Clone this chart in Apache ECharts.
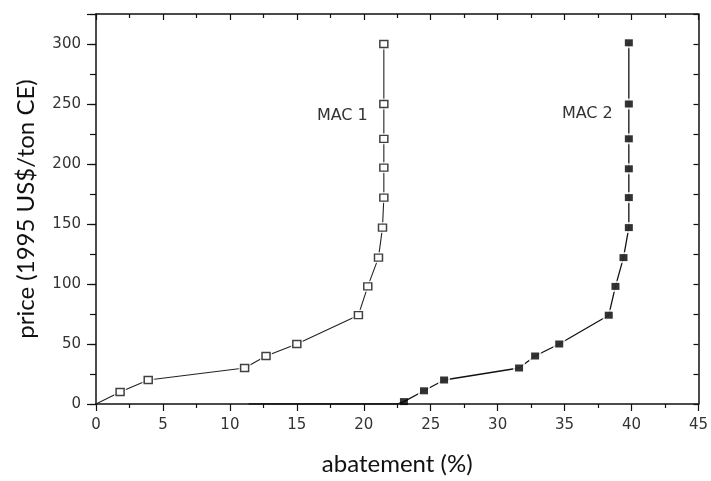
<!DOCTYPE html>
<html>
<head>
<meta charset="utf-8">
<script src="https://cdn.jsdelivr.net/npm/echarts@6/dist/echarts.min.js"></script>
<style>
html,body{margin:0;padding:0;background:#fff;}
#chart{width:711px;height:481px;}
</style>
</head>
<body>
<div id="chart"></div>
<script>
// MAC 1 (open squares): abatement (%) and price
const mac1X = [0, 1.8, 3.9, 11.1, 12.7, 15.0, 19.6, 20.3, 21.1, 21.4, 21.5, 21.5, 21.5, 21.5, 21.5];
const mac1Y = [0, 10, 20, 30, 40, 50, 74, 98, 122, 147, 172, 197, 221, 250, 300];
// MAC 2 (filled squares); the first two points are unmarked
const mac2X = [11.4, 22.5, 23.0, 24.5, 26.0, 31.6, 32.8, 34.6, 38.3, 38.8, 39.4, 39.8, 39.8, 39.8, 39.8, 39.8, 39.8];
const mac2Y = [0, 0, 2, 11, 20, 30, 40, 50, 74, 98, 122, 147, 172, 196, 221, 250, 301];
const xTicks = [0, 5, 10, 15, 20, 25, 30, 35, 40, 45];
const yTicks = [0, 50, 100, 150, 200, 250, 300];

const pts1 = mac1X.map((x, i) => [x, mac1Y[i]]);
const pts2 = mac2X.map((x, i) => [x, mac2Y[i]]);
const mk1 = pts1.slice(1);
const mk2 = pts2.slice(2);
const gapPts = mk1.concat(mk2).filter(p => p[1] >= 8);

const chart = echarts.init(document.getElementById('chart'));
const tickFont = {fontFamily: 'DejaVu Sans', fontSize: 15, color: '#333'};
const titleFont = {fontFamily: 'Lato', fontSize: 24, color: '#111'};

chart.setOption({
  animation: false,
  backgroundColor: '#fff',
  grid: {left: 96, right: 9, top: 14, bottom: 73, containLabel: false},
  xAxis: [
    {
      type: 'value', position: 'bottom', min: xTicks[0], max: xTicks[xTicks.length - 1], interval: 5,
      name: 'abatement (%)', nameLocation: 'middle', nameGap: 48,
      nameTextStyle: titleFont,
      axisLine: {show: true, onZero: false, lineStyle: {color: '#111', width: 1.5}},
      axisTick: {show: true, inside: false, length: 7, lineStyle: {color: '#111', width: 1.2}},
      minorTick: {show: true, splitNumber: 2, length: 4, lineStyle: {color: '#111', width: 1.2}},
      axisLabel: Object.assign({margin: 14}, tickFont),
      splitLine: {show: false}
    },
    {
      type: 'value', position: 'top', min: 0, max: 45, interval: 5,
      axisLine: {show: true, onZero: false, lineStyle: {color: '#111', width: 1.5}},
      axisTick: {show: true, inside: true, length: 6, lineStyle: {color: '#111', width: 1.2}},
      minorTick: {show: true, splitNumber: 2, length: 4, lineStyle: {color: '#111', width: 1.2}},
      axisLabel: {show: false},
      splitLine: {show: false}
    }
  ],
  yAxis: [
    {
      type: 'value', position: 'left', min: 0, max: 325, interval: 25,
      name: 'price (1995 US$/ton CE)', nameLocation: 'middle', nameGap: 58, nameRotate: 90,
      nameTextStyle: titleFont,
      axisLine: {show: true, onZero: false, lineStyle: {color: '#111', width: 1.5}},
      axisTick: {show: true, inside: false, length: 6, lineStyle: {color: '#111', width: 1.2}},
      axisLabel: Object.assign({margin: 15, formatter: v => (yTicks.indexOf(v) >= 0 ? String(v) : '')}, tickFont),
      splitLine: {show: false}
    },
    {
      type: 'value', position: 'left', min: 0, max: 325, interval: 50,
      axisLine: {show: false},
      axisTick: {show: true, inside: false, length: 9, lineStyle: {color: '#111', width: 1.2}},
      axisLabel: {show: false},
      splitLine: {show: false}
    },
    {
      type: 'value', position: 'right', min: 0, max: 325, interval: 25,
      axisLine: {show: true, onZero: false, lineStyle: {color: '#111', width: 1.5}},
      axisTick: {show: true, inside: true, length: 5, lineStyle: {color: '#111', width: 1.2}},
      axisLabel: {show: false},
      splitLine: {show: false}
    }
  ],
  series: [
    {
      type: 'line', name: 'MAC 1', data: pts1, symbol: 'none', z: 2,
      lineStyle: {color: '#222', width: 1.1}
    },
    {
      type: 'line', name: 'MAC 2', data: pts2, symbol: 'none', z: 2,
      lineStyle: {color: '#111', width: 1.3}
    },
    {
      type: 'scatter', name: 'gap', data: gapPts, symbol: 'rect', symbolSize: [12, 11], z: 3, silent: true,
      itemStyle: {color: '#fff'}
    },
    {
      type: 'scatter', name: 'MAC 1 pts', data: mk1, symbol: 'rect', symbolSize: [8, 7], z: 4, silent: true,
      itemStyle: {color: '#fff', borderColor: '#111', borderWidth: 1.4},
      markPoint: {
        symbol: 'rect', symbolSize: 1, itemStyle: {color: 'rgba(0,0,0,0)'},
        label: Object.assign({show: true, position: 'inside', formatter: 'MAC 1'}, tickFont, {fontSize: 16}),
        data: [{coord: [18.4, 240]}]
      }
    },
    {
      type: 'scatter', name: 'MAC 2 pts', data: mk2, symbol: 'rect', symbolSize: [8, 7], z: 4, silent: true,
      itemStyle: {color: '#000'},
      markPoint: {
        symbol: 'rect', symbolSize: 1, itemStyle: {color: 'rgba(0,0,0,0)'},
        label: Object.assign({show: true, position: 'inside', formatter: 'MAC 2'}, tickFont, {fontSize: 16}),
        data: [{coord: [36.7, 242]}]
      }
    }
  ]
});
</script>
</body>
</html>
